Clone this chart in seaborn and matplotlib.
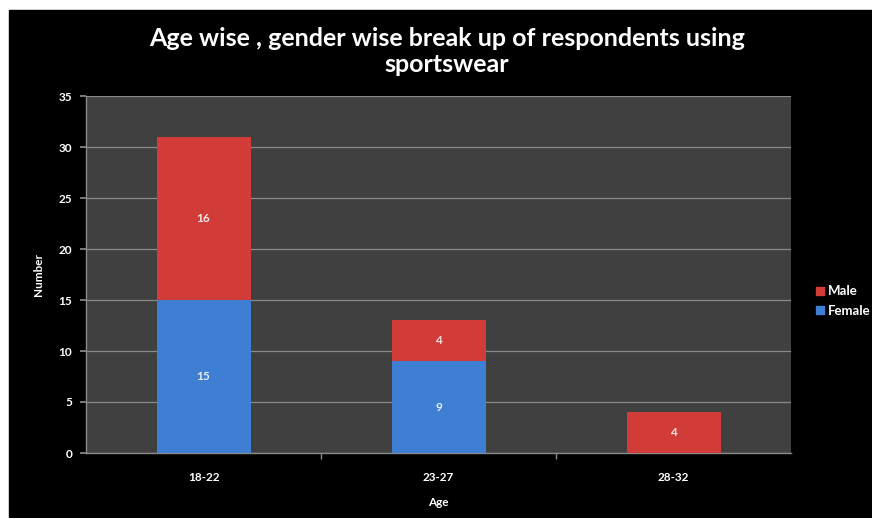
import matplotlib
matplotlib.use("Agg")
import matplotlib.pyplot as plt
import seaborn as sns
import pandas as pd
from matplotlib.patches import Rectangle
from matplotlib.lines import Line2D

ages = ["18-22", "23-27", "28-32"]
female = [15, 9, 0]
male = [16, 4, 4]

RED = "#d23c38"
BLUE = "#3f7fd3"

sns.set_theme(style="dark")
plt.rcParams['font.family'] = ['Lato', 'DejaVu Sans']
plt.rcParams['font.weight'] = 'bold'

totals = [f + m for f, m in zip(female, male)]
df = pd.DataFrame({"age": ages, "female": female, "male": male, "total": totals})

fig = plt.figure(figsize=(8.72, 5.18), dpi=100, facecolor="white")
# black chart area with thin white border at top/left
fig.patches.append(Rectangle((9 / 872, 0), 1, (518 - 10) / 518,
                             transform=fig.transFigure, color="black", zorder=-10))

ax = fig.add_axes([86 / 872, 1 - 453 / 518, (791 - 86) / 872, (453 - 96) / 518])
ax.set_facecolor("#404040")

sns.barplot(data=df, x="age", y="total", color=RED, width=0.4,
            saturation=1, ax=ax, edgecolor=RED, linewidth=0, zorder=3)
sns.barplot(data=df, x="age", y="female", color=BLUE, width=0.4,
            saturation=1, ax=ax, edgecolor=BLUE, linewidth=0, zorder=4)

# segment labels
for i, (f, m) in enumerate(zip(female, male)):
    if f > 0:
        ax.text(i, f / 2, str(f), ha="center", va="center", color="#e8eef8",
                fontsize=8.5, fontweight="bold", zorder=5)
    if m > 0:
        ax.text(i, f + m / 2, str(m), ha="center", va="center", color="#f4e6e6",
                fontsize=8.5, fontweight="bold", zorder=5)

ax.set_ylim(0, 35)
ax.set_xlim(-0.5, 2.5)
ax.set_yticks(range(0, 36, 5))
ax.yaxis.grid(True, color="#8a8a8a", linewidth=0.9)
ax.xaxis.grid(False)
ax.set_axisbelow(True)

for side in ["top", "right"]:
    ax.spines[side].set_visible(False)
for side in ["left", "bottom"]:
    ax.spines[side].set_visible(True)
    ax.spines[side].set_color("#8a8a8a")
    ax.spines[side].set_linewidth(1)

ax.tick_params(axis="y", colors="#8a8a8a", labelcolor="white", length=4,
               direction="out", left=True, labelsize=8.5, pad=6)
ax.tick_params(axis="x", bottom=False, labelcolor="white", labelsize=8.5, pad=8)

# minor ticks between categories
ax.set_xticks([0.5, 1.5], minor=True)
ax.tick_params(axis="x", which="minor", bottom=True, length=4,
               colors="#8a8a8a", direction="out")

ax.set_xlabel("Age", color="white", fontsize=8.5, fontweight="bold", labelpad=10)
ax.set_ylabel("Number", color="white", fontsize=8.5, fontweight="bold", labelpad=10)

fig.text(447 / 872, 1 - 38 / 518, "Age wise , gender wise break up of respondents using",
         ha="center", va="center", color="white", fontsize=18, fontweight="bold")
fig.text(447 / 872, 1 - 65 / 518, "sportswear",
         ha="center", va="center", color="white", fontsize=18, fontweight="bold")

handles = [Line2D([], [], marker="s", linestyle="", color=RED, markersize=6),
           Line2D([], [], marker="s", linestyle="", color=BLUE, markersize=6)]
leg = fig.legend(handles, ["Male", "Female"], loc="center left",
                 bbox_to_anchor=(808 / 872, 1 - 301 / 518), frameon=False,
                 handletextpad=0.1, labelspacing=0.55, handlelength=1.0,
                 borderaxespad=0, prop={"size": 9.5, "weight": "bold"})
for t in leg.get_texts():
    t.set_color("white")

fig.savefig("out.png", dpi=100, facecolor=fig.get_facecolor())
